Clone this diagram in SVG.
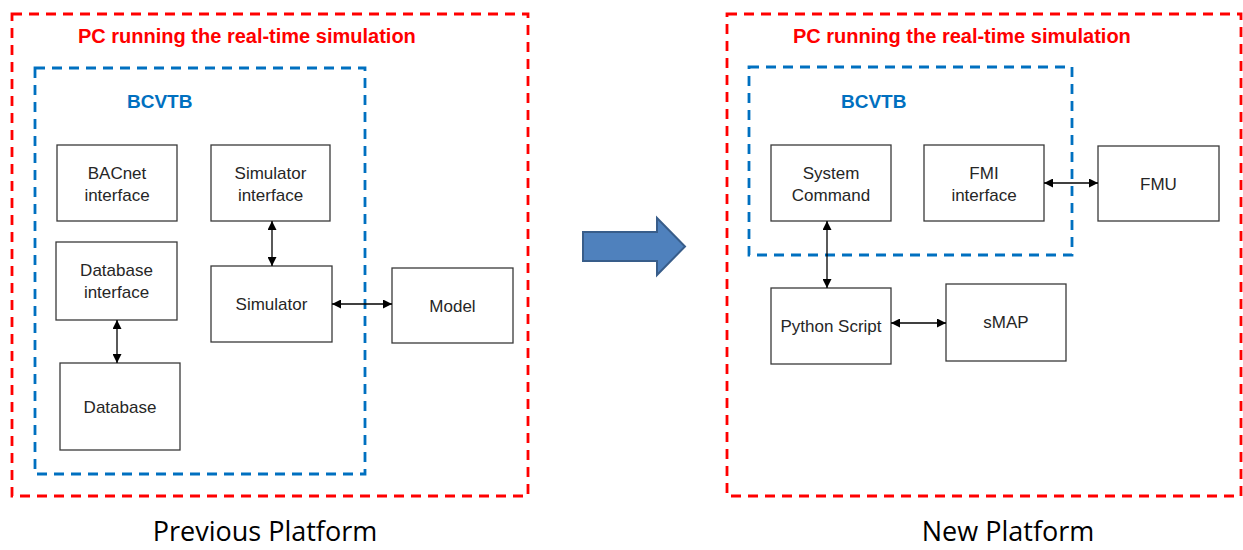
<svg xmlns="http://www.w3.org/2000/svg" width="1243" height="550" viewBox="0 0 1243 550">
<defs>
<style>
.red{fill:none;stroke:#FF0000;stroke-width:2.8;stroke-dasharray:10 7}
.blue{fill:none;stroke:#0070C0;stroke-width:2.8;stroke-dasharray:10 7}
.box{fill:#fff;stroke:#3a3a3a;stroke-width:1.3}
.t{font-family:"Liberation Sans",Arial,sans-serif;font-size:17px;fill:#262626;text-anchor:middle}
.title{font-family:"Liberation Sans",Arial,sans-serif;font-size:20px;font-weight:bold;fill:#FF0000}
.bc{font-family:"Liberation Sans",Arial,sans-serif;font-size:19px;font-weight:bold;fill:#0070C0}
.plat{font-family:"Open Sans",sans-serif;font-size:27px;fill:#000;text-anchor:middle}
.conn{fill:none;stroke:#000;stroke-width:1.3}
</style>
<marker id="ah" viewBox="0 0 10 10" refX="10" refY="5" markerWidth="9" markerHeight="9" markerUnits="userSpaceOnUse" orient="auto-start-reverse">
<path d="M0,0 L10,5 L0,10 z" fill="#000"/>
</marker>
</defs>
<rect width="1243" height="550" fill="#fff"/>

<g id="prev-pc">
<rect class="red" x="12" y="14" width="516" height="482"/>
<text class="title" x="78" y="43">PC running the real-time simulation</text>
</g>
<g id="prev-bcvtb">
<rect class="blue" x="35" y="68" width="330" height="406"/>
<text class="bc" x="127" y="108">BCVTB</text>
</g>
<g id="bacnet">
<rect class="box" x="57" y="145" width="120" height="76"/>
<text class="t" x="117" y="179">BACnet</text>
<text class="t" x="117" y="201">interface</text>
</g>
<g id="sim-interface">
<rect class="box" x="211" y="145" width="119" height="76"/>
<text class="t" x="270.5" y="179">Simulator</text>
<text class="t" x="270.5" y="201">interface</text>
</g>
<g id="db-interface">
<rect class="box" x="56" y="242" width="121" height="78"/>
<text class="t" x="116.5" y="276">Database</text>
<text class="t" x="116.5" y="298">interface</text>
</g>
<g id="simulator">
<rect class="box" x="211" y="266" width="121" height="76"/>
<text class="t" x="271.5" y="310">Simulator</text>
</g>
<g id="model">
<rect class="box" x="392" y="268" width="121" height="75"/>
<text class="t" x="452.5" y="312">Model</text>
</g>
<g id="database">
<rect class="box" x="60" y="363" width="120" height="87"/>
<text class="t" x="120" y="413">Database</text>
</g>

<g id="shift-arrow">
<path d="M583,232 L657,232 L657,218 L685,246.5 L657,275 L657,261 L583,261 Z" fill="#4F81BD" stroke="#385D8A" stroke-width="2"/>
</g>

<g id="new-pc">
<rect class="red" x="727" y="14" width="514" height="482"/>
<text class="title" x="793" y="43">PC running the real-time simulation</text>
</g>
<g id="new-bcvtb">
<rect class="blue" x="749" y="67" width="323" height="188"/>
<text class="bc" x="841" y="108">BCVTB</text>
</g>
<g id="system-command">
<rect class="box" x="771" y="145" width="120" height="76"/>
<text class="t" x="831" y="179">System</text>
<text class="t" x="831" y="201">Command</text>
</g>
<g id="fmi-interface">
<rect class="box" x="924" y="145" width="120" height="76"/>
<text class="t" x="984" y="179">FMI</text>
<text class="t" x="984" y="201">interface</text>
</g>
<g id="fmu">
<rect class="box" x="1098" y="146" width="121" height="75"/>
<text class="t" x="1158.5" y="190">FMU</text>
</g>
<g id="python-script">
<rect class="box" x="771" y="288" width="120" height="76"/>
<text class="t" x="831" y="332">Python Script</text>
</g>
<g id="smap">
<rect class="box" x="946" y="284" width="120" height="77"/>
<text class="t" x="1006" y="328">sMAP</text>
</g>

<g id="connectors">
<line class="conn" x1="272" y1="221" x2="272" y2="266" marker-start="url(#ah)" marker-end="url(#ah)"/>
<line class="conn" x1="332" y1="304" x2="392" y2="304" marker-start="url(#ah)" marker-end="url(#ah)"/>
<line class="conn" x1="117" y1="320" x2="117" y2="363" marker-start="url(#ah)" marker-end="url(#ah)"/>
<line class="conn" x1="827" y1="221" x2="827" y2="288" marker-start="url(#ah)" marker-end="url(#ah)"/>
<line class="conn" x1="1044" y1="183" x2="1098" y2="183" marker-start="url(#ah)" marker-end="url(#ah)"/>
<line class="conn" x1="891" y1="323" x2="946" y2="323" marker-start="url(#ah)" marker-end="url(#ah)"/>
</g>

<g id="labels">
<text class="plat" x="265" y="541">Previous Platform</text>
<text class="plat" x="1008" y="541">New Platform</text>
</g>
</svg>
